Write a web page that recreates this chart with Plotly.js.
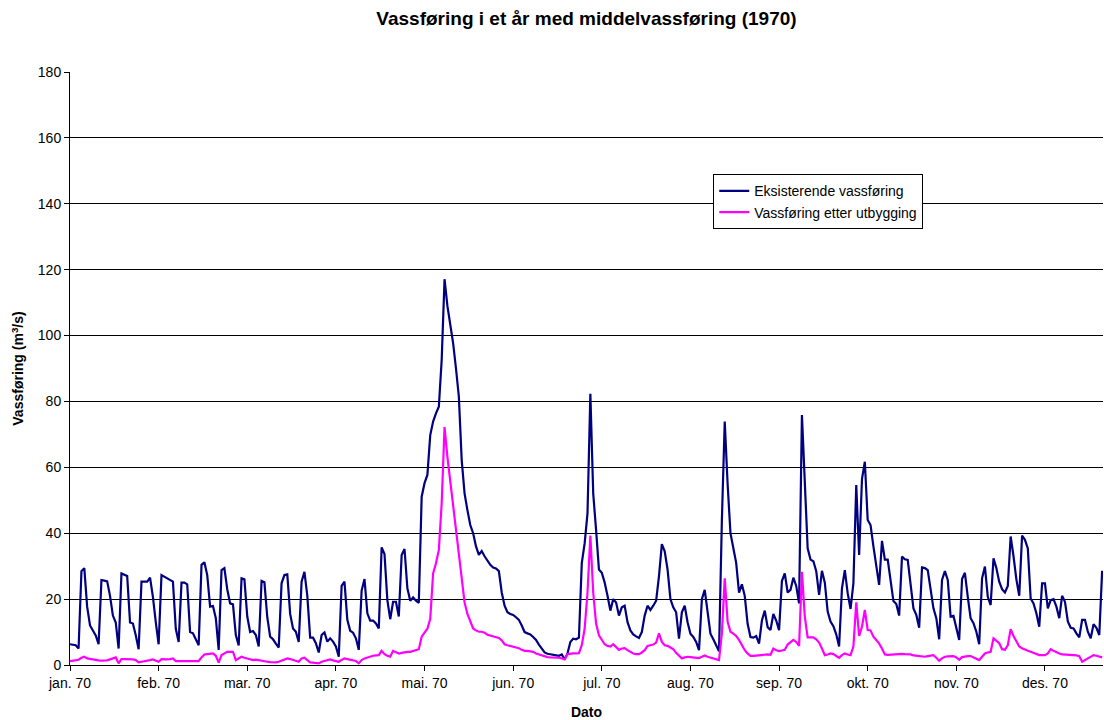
<!DOCTYPE html>
<html>
<head>
<meta charset="utf-8">
<script src="https://cdn.plot.ly/plotly-3.0.1.min.js"></script>
<style>
html,body{margin:0;padding:0;background:#fff;}
#chart{width:1104px;height:720px;}
</style>
</head>
<body>
<div id="chart"></div>
<script>
// ---- data (daily values, 1970, from Jan 1) ----
const startDate = '1970-01-01';
const monthLabels = ['jan. 70','feb. 70','mar. 70','apr. 70','mai. 70','jun. 70',
                     'jul. 70','aug. 70','sep. 70','okt. 70','nov. 70','des. 70'];
const seriesNames = ['Eksisterende vassføring', 'Vassføring etter utbygging'];

const eksisterende = [
 6.3, 6.2, 6.0, 5.0, 28.5, 29.4, 17.7, 12.0, 10.5, 9.0,
 6.3, 25.8, 25.6, 25.4, 21.0, 15.0, 12.9, 5.0, 27.8, 27.4,
 27.0, 12.9, 12.6, 9.0, 4.8, 25.3, 25.3, 25.3, 26.5, 20.7,
 13.0, 6.3, 27.3, 26.8, 26.3, 25.8, 25.3, 11.0, 7.0, 25.0,
 25.0, 24.5, 10.0, 9.6, 8.0, 6.0, 30.4, 31.2, 27.3, 17.7,
 17.9, 14.2, 4.6, 28.8, 29.4, 23.0, 18.7, 18.4, 9.1, 5.9,
 26.3, 26.0, 14.7, 10.0, 10.3, 9.1, 5.6, 25.5, 25.1, 14.5,
 8.6, 7.8, 6.5, 5.3, 24.8, 27.3, 27.5, 15.5, 11.1, 10.1,
 7.0, 25.3, 28.3, 21.0, 8.3, 8.3, 6.6, 3.8, 9.1, 9.9,
 7.1, 8.1, 7.1, 5.6, 2.5, 24.0, 25.3, 13.7, 10.4, 9.8,
 8.1, 4.6, 22.6, 26.1, 15.7, 13.5, 13.5, 12.6, 11.1, 35.7,
 33.7, 19.7, 13.9, 19.2, 19.2, 14.7, 33.4, 35.2, 23.3, 19.5,
 20.5, 19.5, 18.9, 51.1, 55.2, 57.7, 69.8, 73.9, 76.4, 78.4,
 92.6, 117.1, 109.0, 103.0, 97.7, 90.0, 81.5, 62.2, 52.1, 47.0,
 42.5, 40.0, 36.0, 33.4, 34.6, 33.0, 31.5, 30.4, 29.6, 29.3,
 28.5, 22.0, 18.0, 16.0, 15.5, 15.2, 14.5, 13.7, 12.0, 10.0,
 9.6, 9.3, 8.5, 7.6, 6.2, 5.0, 3.8, 3.4, 3.3, 3.2,
 3.1, 2.8, 3.2, 1.7, 3.5, 7.0, 8.0, 7.8, 8.3, 30.9,
 36.9, 46.0, 82.3, 52.0, 41.0, 29.0, 28.0, 25.0, 21.0, 16.5,
 20.0, 19.0, 15.0, 17.5, 18.0, 13.0, 10.5, 9.3, 8.7, 8.2,
 10.0, 15.0, 18.0, 16.7, 18.0, 19.5, 27.0, 36.7, 34.5, 29.0,
 20.0, 17.5, 16.0, 8.0, 16.0, 18.0, 13.0, 9.5, 8.5, 7.0,
 4.5, 20.0, 22.8, 16.0, 9.5, 7.8, 6.0, 4.2, 44.0, 73.9,
 55.0, 40.0, 35.5, 31.0, 22.0, 24.5, 21.0, 12.5, 8.5, 8.3,
 8.8, 6.5, 13.5, 16.5, 11.5, 10.6, 15.5, 13.5, 10.6, 25.5,
 27.8, 22.0, 22.8, 26.5, 24.0, 18.7, 75.9, 56.0, 35.4, 32.0,
 31.5, 28.5, 21.3, 28.6, 25.0, 16.2, 13.2, 11.8, 9.3, 5.6,
 23.3, 28.8, 21.8, 17.0, 24.8, 54.6, 33.4, 56.4, 61.7, 44.0,
 42.5, 36.0, 30.0, 24.3, 37.7, 32.0, 32.0, 26.0, 19.4, 18.5,
 15.0, 32.9, 32.1, 31.9, 25.0, 17.2, 15.2, 11.3, 29.6, 29.4,
 28.8, 22.8, 17.2, 14.2, 7.8, 25.8, 28.5, 25.8, 14.7, 14.9,
 11.6, 7.6, 26.1, 28.0, 20.7, 14.2, 12.7, 10.1, 6.3, 26.3,
 29.9, 20.7, 18.2, 32.4, 29.4, 25.3, 23.0, 22.0, 24.0, 39.0,
 33.0, 26.0, 21.0, 39.3, 38.0, 35.4, 20.2, 18.7, 15.7, 11.6,
 24.8, 24.8, 17.2, 19.7, 20.0, 17.7, 14.2, 21.0, 19.2, 13.2,
 11.3, 11.1, 9.6, 8.4, 13.7, 13.7, 10.1, 8.1, 12.4, 11.3,
 9.1, 28.6
];

const etterUtbygging = [
 1.2, 1.3, 1.5, 1.6, 2.2, 2.5, 2.0, 1.8, 1.7, 1.5,
 1.4, 1.3, 1.3, 1.4, 1.7, 2.0, 2.3, 0.5, 1.8, 1.8,
 1.8, 1.8, 1.7, 1.5, 0.8, 1.0, 1.1, 1.3, 1.5, 1.7,
 1.4, 1.0, 1.8, 1.7, 1.7, 1.8, 2.0, 1.2, 1.2, 1.2,
 1.2, 1.2, 1.2, 1.2, 1.0, 1.2, 2.3, 3.2, 3.3, 3.4,
 3.5, 2.8, 0.7, 3.0, 3.6, 4.0, 4.0, 4.0, 1.5, 2.0,
 2.5, 2.2, 2.0, 1.8, 1.5, 1.6, 1.4, 1.3, 1.2, 1.0,
 0.9, 0.8, 0.8, 1.0, 1.3, 1.6, 2.0, 1.8, 1.5, 1.4,
 1.0, 2.0, 2.2, 1.5, 0.8, 0.7, 0.6, 0.5, 1.0, 1.2,
 1.5, 1.7, 1.4, 1.2, 1.0, 1.5, 2.0, 1.8, 1.6, 1.6,
 1.2, 0.5, 1.5, 2.0, 2.3, 2.6, 2.8, 2.9, 3.0, 4.3,
 3.3, 2.8, 2.5, 4.3, 4.0, 3.5, 3.7, 3.9, 4.0, 4.0,
 4.3, 4.6, 4.8, 8.6, 9.8, 11.0, 14.0, 27.8, 30.9, 34.9,
 49.1, 72.2, 63.2, 55.5, 48.0, 42.0, 34.0, 25.0, 19.0, 15.5,
 13.0, 11.1, 10.5, 10.1, 10.1, 9.8, 9.2, 9.0, 8.8, 8.6,
 8.2, 7.5, 6.3, 6.0, 5.8, 5.6, 5.4, 5.1, 4.6, 4.3,
 4.3, 4.2, 4.0, 3.5, 3.2, 2.8, 2.5, 2.4, 2.3, 2.3,
 2.2, 2.2, 2.0, 1.7, 3.3, 3.5, 3.5, 3.5, 3.6, 6.0,
 11.0, 22.0, 39.3, 22.0, 12.6, 9.0, 7.5, 6.3, 5.8, 5.6,
 6.3, 5.5, 4.6, 5.0, 5.1, 4.5, 4.0, 3.5, 3.3, 3.3,
 3.8, 4.5, 5.8, 6.0, 6.2, 6.8, 9.6, 7.0, 6.0, 5.8,
 5.3, 4.8, 3.7, 2.8, 2.0, 2.3, 2.5, 2.4, 2.3, 2.2,
 2.1, 2.5, 2.9, 2.5, 2.3, 2.0, 1.8, 1.5, 9.6, 26.3,
 13.2, 10.1, 9.5, 8.8, 7.6, 5.8, 4.5, 3.5, 2.8, 2.8,
 2.9, 2.9, 3.0, 3.2, 3.2, 3.1, 5.0, 4.5, 4.2, 4.4,
 4.6, 6.2, 6.8, 7.6, 7.0, 5.8, 28.3, 14.7, 8.4, 8.4,
 8.4, 7.8, 6.8, 5.0, 3.0, 3.2, 3.5, 3.3, 2.8, 2.2,
 3.0, 3.5, 3.2, 3.0, 5.6, 19.0, 8.8, 11.6, 16.7, 10.6,
 10.5, 8.6, 7.6, 6.5, 5.0, 3.2, 3.1, 3.2, 3.3, 3.4,
 3.5, 3.4, 3.3, 3.3, 3.2, 2.9, 2.8, 2.7, 2.6, 2.5,
 2.7, 2.9, 3.0, 2.2, 1.3, 2.0, 2.5, 2.6, 2.7, 2.7,
 2.3, 1.6, 2.4, 2.6, 2.7, 2.7, 2.3, 1.9, 1.5, 2.5,
 3.5, 3.8, 4.0, 8.1, 7.3, 6.6, 4.8, 4.6, 6.0, 10.9,
 8.8, 7.1, 5.6, 5.1, 4.6, 4.3, 4.0, 3.6, 3.2, 3.0,
 3.0, 3.0, 3.5, 4.8, 4.3, 3.8, 3.5, 3.2, 3.2, 3.2,
 3.1, 3.0, 2.9, 2.7, 1.0, 1.5, 2.0, 2.5, 3.0, 2.8,
 2.5, 2.3
];

// ---- axis / category set-up ----
const DAY = 86400000;
const t0 = Date.parse(startDate + 'T00:00:00Z');
function fmt(ms) {
  return new Date(ms).toISOString().replace('T', ' ').slice(0, 19);
}
const dates = eksisterende.map((_, i) => fmt(t0 + i * DAY).slice(0, 10));
const labelStep = 31; // one label every 31 categories (Excel category axis)
const tickVals = monthLabels.map((_, k) => dates[k * labelStep]);
const xEnd = fmt(t0 + (dates.length - 0.7) * DAY);

const FONT = 'Liberation Sans, Arial, Helvetica, sans-serif';

const traces = [
  {
    x: dates, y: eksisterende, name: seriesNames[0],
    type: 'scatter', mode: 'lines',
    line: {color: '#000080', width: 2.2}
  },
  {
    x: dates, y: etterUtbygging, name: seriesNames[1],
    type: 'scatter', mode: 'lines',
    line: {color: '#FF00FF', width: 2.2}
  }
];

const layout = {
  width: 1104, height: 720,
  paper_bgcolor: '#fff', plot_bgcolor: '#fff',
  margin: {l: 70, r: 1, t: 72, b: 55},
  font: {family: FONT, size: 14, color: '#000'},
  title: {
    text: '<b>Vassføring i et år med middelvassføring (1970)</b>',
    font: {family: FONT, size: 19, color: '#000'},
    xref: 'paper', x: 0.5, xanchor: 'center',
    yref: 'container', y: 0.974, yanchor: 'middle'
  },
  showlegend: true,
  legend: {
    x: 0.6227, y: 0.8275, xanchor: 'left', yanchor: 'top',
    bgcolor: '#fff', bordercolor: '#000', borderwidth: 1,
    font: {family: FONT, size: 14, color: '#000'},
    tracegroupgap: 0, itemwidth: 30
  },
  xaxis: {
    type: 'date',
    range: [fmt(t0), xEnd],
    tickmode: 'array', tickvals: tickVals, ticktext: monthLabels,
    ticks: 'outside', ticklen: 5, tickcolor: '#000', tickwidth: 1,
    showline: true, linecolor: '#000', linewidth: 1,
    showgrid: false, zeroline: false,
    tickfont: {family: FONT, size: 14, color: '#000'},
    title: {text: '<b>Dato</b>', font: {family: FONT, size: 14, color: '#000'}, standoff: 18}
  },
  yaxis: {
    range: [0, 180], tick0: 0, dtick: 20,
    ticks: 'outside', ticklen: 5, tickcolor: '#000', tickwidth: 1,
    showline: true, linecolor: '#000', linewidth: 1,
    showgrid: true, gridcolor: '#000', gridwidth: 1, zeroline: false,
    tickfont: {family: FONT, size: 14, color: '#000'},
    title: {text: '<b>Vassføring (m<sup>3</sup>/s)</b>', font: {family: FONT, size: 14, color: '#000'}, standoff: 10}
  }
};

Plotly.newPlot('chart', traces, layout, {displayModeBar: false, staticPlot: true});
</script>
</body>
</html>
